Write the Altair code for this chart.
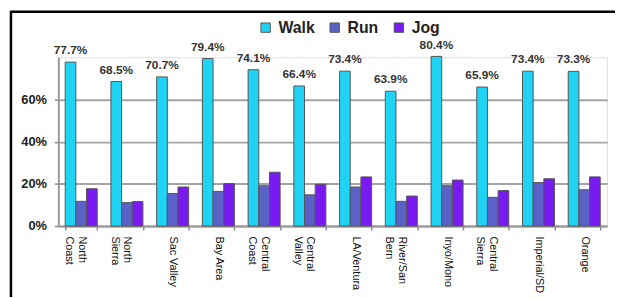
import altair as alt
import pandas as pd

regions = ["North|Coast", "North|Sierra", "Sac Valley", "Bay Area", "Central|Coast",
           "Central|Valley", "LA/Ventura", "River/San|Bern", "Inyo/Mono",
           "Central|Sierra", "Imperial/SD", "Orange"]
walk = [77.7, 68.5, 70.7, 79.4, 74.1, 66.4, 73.4, 63.9, 80.4, 65.9, 73.4, 73.3]
run = [11.7, 11.1, 15.4, 16.4, 19.1, 14.8, 18.5, 11.7, 19.1, 13.6, 20.6, 17.2]
jog = [17.7, 11.6, 18.5, 20.1, 25.5, 19.8, 23.3, 14.2, 21.8, 16.8, 22.4, 23.3]
series = ["Walk", "Run", "Jog"]
colors = ["#1ed3f3", "#5a62c8", "#7a1af2"]
y_ticks = [0, 0.2, 0.4, 0.6]

rows = []
for name, vals in zip(series, [walk, run, jog]):
    for r, v in zip(regions, vals):
        rows.append({"region": r, "series": name, "value": v / 100.0})
df = pd.DataFrame(rows)

FONT = "Liberation Sans"

x_enc = alt.X(
    "region:N", sort=regions,
    scale=alt.Scale(paddingInner=0.3, paddingOuter=0.15),
    axis=alt.Axis(title=None, labelAngle=90,
                  labelExpr="isValid(datum.value) ? split(datum.value, '|') : ''",
                  tickBand="extent", labelFontSize=11, labelLineHeight=13,
                  labelPadding=6, tickSize=4, tickColor="#888", tickWidth=1.5,
                  domainColor="#9a9a9a", domainWidth=2, grid=False,
                  labelColor="#111", labelFont=FONT, labelLimit=80),
)
y_enc = alt.Y(
    "value:Q",
    scale=alt.Scale(domain=[0, 0.8], nice=False),
    axis=alt.Axis(title=None, values=y_ticks, format=".0%", labelFontSize=13,
                  labelFontWeight="bold", labelFont=FONT, labelColor="#222",
                  grid=True, gridColor="#a4a4a4", gridWidth=2,
                  domainColor="#9a9a9a", domainWidth=2, tickSize=4,
                  tickColor="#888", tickWidth=1.5, labelPadding=8),
)
xoff = alt.XOffset("series:N", sort=series,
                   scale=alt.Scale(domain=series, paddingInner=0, paddingOuter=0))

bars = alt.Chart(df).mark_bar(stroke="#555", strokeWidth=1).encode(
    x=x_enc, y=y_enc, xOffset=xoff,
    color=alt.Color("series:N", sort=series,
                    scale=alt.Scale(domain=series, range=colors),
                    legend=alt.Legend(orient="none", legendX=202, legendY=-38,
                                      direction="horizontal", title=None,
                                      labelFontSize=16, labelFontWeight="bold",
                                      labelFont=FONT, labelColor="#222",
                                      symbolType="square", symbolSize=90,
                                      symbolStrokeColor="#555", symbolStrokeWidth=1,
                                      columnPadding=12, labelOffset=5)),
)

labels = alt.Chart(df[df["series"] == "Walk"]).mark_text(
    dy=-8, baseline="alphabetic", fontSize=12, fontWeight="bold",
    font=FONT, color="#333"
).encode(
    x=alt.X("region:N", sort=regions), y="value:Q", xOffset=xoff,
    text=alt.Text("value:Q", format=".1%"),
)

frame_df = pd.DataFrame({"k": [0]})
top_rule = alt.Chart(frame_df).mark_rule(color="black", strokeWidth=2.5).encode(
    x=alt.value(-48), x2=alt.value(580), y=alt.value(-46))
left_rule = alt.Chart(frame_df).mark_rule(color="black", strokeWidth=2.5).encode(
    x=alt.value(-48), y=alt.value(-47), y2=alt.value(250))

chart = alt.layer(bars, labels, top_rule, left_rule).properties(
    width=556, height=171,
    autosize=alt.AutoSizeParams(type="none"),
    padding={"left": 51, "top": 48, "right": 8, "bottom": 70},
).configure_view(stroke=None).configure(background="white")

chart.save("out.html", embed_options={"renderer": "svg", "actions": False})
